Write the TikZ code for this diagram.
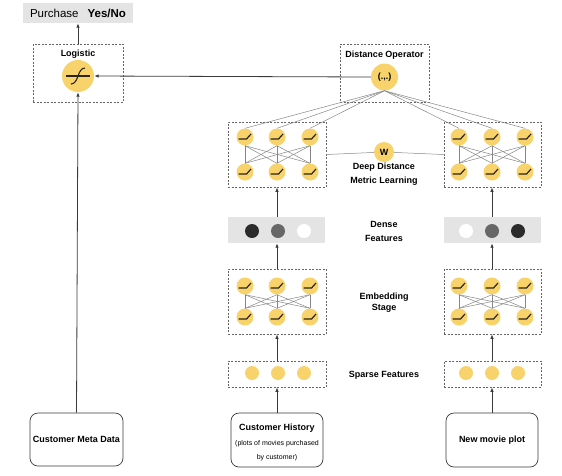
\documentclass[tikz,border=0pt]{standalone}
\usepackage{fontspec}
\setmainfont{Liberation Sans}
\usetikzlibrary{arrows.meta}
\definecolor{neur}{HTML}{F8D36B}
\definecolor{glyph}{HTML}{2A2418}
\definecolor{boxgray}{HTML}{666666}
\definecolor{linegray}{HTML}{858585}
\definecolor{arrowc}{HTML}{3A3A3A}
\definecolor{densefill}{HTML}{E4E4E4}
\definecolor{darkdot}{HTML}{2B2B2B}
\definecolor{middot}{HTML}{676767}
\begin{document}
\begin{tikzpicture}[x=1pt,y=-1pt,
  lbl/.style={font=\fontsize{9}{14}\selectfont\bfseries, align=center, inner sep=0pt},
  dbox/.style={draw=boxgray, dash pattern=on 2pt off 1.5pt, line width=0.6pt, inner sep=0pt},
  rbox/.style={draw=arrowc, rounded corners=8pt, line width=0.7pt, inner sep=0pt, align=center},
  neuron/.style={circle, fill=neur, minimum size=17pt, inner sep=0pt,
    path picture={\draw[line width=1.2pt, glyph]
      ([shift={(-6.5pt,-2pt)}]path picture bounding box.center) --
      ([shift={(1.5pt,-2pt)}]path picture bounding box.center) --
      ([shift={(6pt,3pt)}]path picture bounding box.center);}},
  feat/.style={circle, minimum size=14pt, inner sep=0pt},
  conn/.style={draw=linegray, line width=0.5pt},
  arr/.style={-{Latex[length=4.5pt,width=3.5pt]}, draw=arrowc, line width=0.8pt},
]
\useasboundingbox (0,0) rectangle (562,475);

% Purchase output
\node[fill=densefill, minimum width=110pt, minimum height=20pt, inner sep=0pt,
  font=\fontsize{11.5}{13}\selectfont] (purchase) at (78,13) {Purchase\hspace{9pt}\textbf{Yes/No}};

% Logistic
\node[dbox, minimum width=90pt, minimum height=58pt] (logbox) at (78,73) {};
\node[lbl] (logtxt) at (78,54) {Logistic};
\node[circle, fill=neur, minimum size=32pt, inner sep=0pt,
  path picture={
    \draw[line width=1.1pt, glyph]
      ([shift={(-12pt,0pt)}]path picture bounding box.center) --
      ([shift={(12pt,0pt)}]path picture bounding box.center);
    \draw[line width=1.1pt, glyph]
      ([shift={(-7pt,-8pt)}]path picture bounding box.center) .. controls
      ([shift={(1pt,-8pt)}]path picture bounding box.center) and
      ([shift={(-1pt,8pt)}]path picture bounding box.center) ..
      ([shift={(7pt,8pt)}]path picture bounding box.center);
  }] (logc) at (78,76) {};

% Distance operator
\node[dbox, minimum width=89pt, minimum height=58pt] (distbox) at (384.5,73) {};
\node[lbl] (disttxt) at (384.5,55) {Distance Operator};
\node[circle, fill=neur, minimum size=27pt, inner sep=0pt, font=\fontsize{9}{10}\selectfont\bfseries] (distc) at (384.5,77) {(.,.)};

% Deep distance metric learning boxes
\node[dbox, minimum width=98pt, minimum height=65pt] (ddlL) at (277,154.5) {};
\node[dbox, minimum width=97pt, minimum height=65pt] (ddlR) at (492.5,154.5) {};
\foreach \x [count=\i] in {245,277,310} {
  \node[neuron] (lt\i) at (\x,137) {};
  \node[neuron] (lb\i) at (\x,172) {};
}
\foreach \x [count=\i] in {459,492,525} {
  \node[neuron] (rt\i) at (\x,137) {};
  \node[neuron] (rb\i) at (\x,172) {};
}
\foreach \i in {1,2,3} {
  \foreach \j in {1,2,3} {
    \draw[conn] (lt\i.south) -- (lb\j.north);
    \draw[conn] (rt\i.south) -- (rb\j.north);
  }
  \draw[conn] (distc.south) -- (lt\i.north);
  \draw[conn] (distc.south) -- (rt\i.north);
}
\node[circle, fill=neur, minimum size=20pt, inner sep=0pt, font=\fontsize{9}{10}\selectfont\bfseries] (w) at (384,152) {W};
\draw[conn] (ddlL.east) -- (w);
\draw[conn] (w) -- (ddlR.west);
\node[lbl] (ddltxt) at (384,174) {Deep Distance\\Metric Learning};

% Dense features
\node[fill=densefill, minimum width=97pt, minimum height=26pt, inner sep=0pt] (denseL) at (276.5,230) {};
\node[fill=densefill, minimum width=97pt, minimum height=26pt, inner sep=0pt] (denseR) at (492.5,230) {};
\node[feat, fill=darkdot] (dl1) at (252,231) {};
\node[feat, fill=middot] (dl2) at (278,231) {};
\node[feat, fill=white] (dl3) at (304,231) {};
\node[feat, fill=white] (dr1) at (466,231) {};
\node[feat, fill=middot] (dr2) at (492,231) {};
\node[feat, fill=darkdot] (dr3) at (518,231) {};
\node[lbl] (densetxt) at (384,231) {Dense\\Features};

% Embedding stage
\node[dbox, minimum width=98pt, minimum height=65pt] (embL) at (277,301.5) {};
\node[dbox, minimum width=97pt, minimum height=65pt] (embR) at (492.5,301.5) {};
\foreach \x [count=\i] in {245,277,310} {
  \node[neuron] (elt\i) at (\x,286) {};
  \node[neuron] (elb\i) at (\x,317) {};
}
\foreach \x [count=\i] in {459,492,525} {
  \node[neuron] (ert\i) at (\x,286) {};
  \node[neuron] (erb\i) at (\x,317) {};
}
\foreach \i in {1,2,3} {
  \foreach \j in {1,2,3} {
    \draw[conn] (elt\i.south) -- (elb\j.north);
    \draw[conn] (ert\i.south) -- (erb\j.north);
  }
}
\node[lbl, font=\fontsize{9}{11}\selectfont\bfseries] (embtxt) at (384,302.5) {Embedding\\Stage};

% Sparse features
\node[dbox, minimum width=98pt, minimum height=26pt] (sparseL) at (277,374) {};
\node[dbox, minimum width=97pt, minimum height=26pt] (sparseR) at (492.5,374) {};
\foreach \x [count=\i] in {252,278,304} {
  \node[feat, fill=neur] (sl\i) at (\x,373) {};
}
\foreach \x [count=\i] in {466,492,518} {
  \node[feat, fill=neur] (sr\i) at (\x,373) {};
}
\node[lbl] (sparsetxt) at (384,375) {Sparse Features};

% Inputs
\node[rbox, minimum width=93pt, minimum height=53pt, font=\fontsize{9}{11}\selectfont\bfseries] (meta) at (76.5,439.5) {Customer Meta Data};
\node[rbox, minimum width=92pt, minimum height=54pt] (custh) at (277,440) {};
\node[align=center, inner sep=0pt, font=\fontsize{7}{14.5}\selectfont] (custhtxt) at (277,442.5)
  {{\fontsize{9}{11}\selectfont\bfseries Customer History}\\(plots of movies purchased\\by customer)};
\node[rbox, minimum width=92pt, minimum height=54pt, font=\fontsize{9}{11}\selectfont\bfseries] (newm) at (492,440) {New movie plot};

% Arrows
\draw[arr] (logbox.north) -- (purchase.south);
\draw[arr] (distc.west) -- (logc.east);
\draw[arr] (meta.north) -- (logc.south);
\draw[arr] (denseL.north -| lt2) -- (ddlL.south -| lt2);
\draw[arr] (denseR.north -| rt2) -- (ddlR.south -| rt2);
\draw[arr] (embL.north -| lt2) -- (denseL.south -| lt2);
\draw[arr] (embR.north -| rt2) -- (denseR.south -| rt2);
\draw[arr] (sparseL.north -| lt2) -- (embL.south -| lt2);
\draw[arr] (sparseR.north -| rt2) -- (embR.south -| rt2);
\draw[arr] (custh.north -| lt2) -- (sparseL.south -| lt2);
\draw[arr] (newm.north -| rt2) -- (sparseR.south -| rt2);
\end{tikzpicture}
\end{document}
